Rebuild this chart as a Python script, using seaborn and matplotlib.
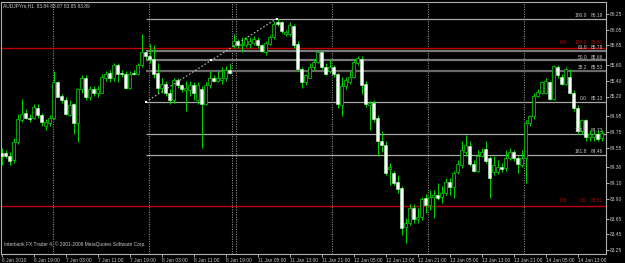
import numpy as np
import pandas as pd
import matplotlib
matplotlib.use("Agg")
import matplotlib.pyplot as plt
import matplotlib.transforms as mtrans
import seaborn as sns

# ---------------- data (AUDJPYm, H1) ----------------
opens = [84.48, 84.48, 84.45, 84.39, 84.62, 84.90, 84.99, 84.93, 84.93, 85.06,
         84.97, 84.82, 84.86, 84.93, 85.39, 85.21, 85.16, 84.97, 85.10, 84.86,
         85.29, 85.43, 85.19, 85.30, 85.25, 85.25, 85.44, 85.50, 85.44, 85.60,
         85.50, 85.49, 85.31, 85.50, 85.49, 85.60, 85.76, 85.72, 85.68, 85.50,
         85.31, 85.36, 85.25, 85.15, 85.41, 85.34, 85.28, 85.28, 85.34, 85.15,
         85.30, 85.11, 85.34, 85.43, 85.40, 85.41, 85.43, 85.54, 85.86, 85.90,
         85.85, 85.86, 85.87, 85.88, 85.92, 85.85, 85.76, 85.87, 85.95, 86.15,
         86.14, 86.00, 86.00, 86.10, 85.87, 85.55, 85.38, 85.44, 85.57, 85.64,
         85.77, 85.57, 85.53, 85.58, 85.48, 85.09, 85.33, 85.39, 85.45, 85.63,
         85.68, 85.36, 85.09, 85.12, 84.93, 84.64, 84.58, 84.28, 84.23, 84.11,
         84.04, 83.54, 83.59, 83.79, 83.64, 83.67, 83.91, 83.82, 83.92, 83.95,
         83.92, 83.97, 84.12, 84.05, 84.24, 84.33, 84.49, 84.57, 84.34, 84.26,
         84.45, 84.53, 84.42, 84.24, 84.24, 84.30, 84.29, 84.42, 84.49, 84.42,
         84.33, 84.42, 84.86, 84.95, 85.21, 85.25, 85.25, 85.38, 85.17, 85.58,
         85.45, 85.36, 85.45, 85.25, 85.06, 84.76, 84.90, 84.68, 84.68, 84.73,
         84.67]
highs = [84.54, 84.52, 84.49, 84.67, 84.98, 85.17, 85.04, 84.98, 85.11, 85.10,
         84.99, 84.91, 84.96, 85.53, 85.40, 85.23, 85.19, 85.15, 85.12, 85.31,
         85.47, 85.47, 85.33, 85.33, 85.33, 85.48, 85.53, 85.54, 85.62, 85.63,
         85.54, 85.53, 85.53, 85.54, 85.63, 86.00, 85.78, 85.87, 85.86, 85.62,
         85.43, 85.40, 85.30, 85.44, 85.44, 85.36, 85.40, 85.40, 85.38, 85.38,
         85.33, 85.38, 85.53, 85.47, 85.53, 85.57, 85.59, 85.63, 86.00, 85.93,
         85.95, 85.96, 85.95, 85.97, 85.95, 85.87, 85.91, 85.98, 86.16, 86.19,
         86.16, 86.05, 86.14, 86.12, 85.90, 85.58, 85.49, 85.62, 85.67, 85.78,
         85.78, 85.63, 85.68, 85.60, 85.50, 85.45, 85.45, 85.52, 85.68, 85.72,
         85.71, 85.40, 85.14, 85.15, 84.96, 84.76, 84.64, 84.36, 84.26, 84.20,
         84.06, 83.66, 83.83, 83.83, 83.79, 83.92, 83.96, 84.01, 84.01, 84.10,
         84.06, 84.17, 84.16, 84.26, 84.39, 84.64, 84.71, 84.64, 84.39, 84.52,
         84.55, 84.64, 84.45, 84.44, 84.39, 84.35, 84.52, 84.54, 84.52, 84.45,
         84.52, 84.90, 84.97, 85.24, 85.30, 85.40, 85.43, 85.40, 85.60, 85.60,
         85.48, 85.58, 85.55, 85.28, 85.09, 84.92, 84.92, 84.77, 84.76, 84.77,
         84.77]
lows = [84.33, 84.42, 84.33, 84.35, 84.60, 84.87, 84.91, 84.87, 84.92, 84.93,
        84.82, 84.77, 84.82, 84.92, 85.19, 85.12, 84.97, 84.95, 84.73, 84.62,
        85.25, 85.16, 85.15, 85.21, 85.19, 85.24, 85.40, 85.38, 85.40, 85.38,
        85.45, 85.30, 85.29, 85.47, 85.47, 85.58, 85.68, 85.63, 85.44, 85.24,
        85.25, 85.21, 85.11, 85.12, 85.31, 85.26, 85.02, 85.21, 85.15, 85.11,
        84.54, 85.09, 85.31, 85.38, 85.38, 85.36, 85.40, 85.48, 85.82, 85.81,
        85.76, 85.83, 85.82, 85.86, 85.81, 85.76, 85.73, 85.85, 85.93, 86.09,
        86.01, 85.97, 85.97, 85.82, 85.53, 85.31, 85.35, 85.43, 85.54, 85.62,
        85.55, 85.47, 85.50, 85.45, 85.05, 84.95, 85.30, 85.36, 85.43, 85.60,
        85.23, 85.07, 84.77, 84.87, 84.45, 84.49, 84.20, 84.07, 84.07, 83.98,
        83.44, 83.34, 83.57, 83.60, 83.60, 83.63, 83.72, 83.76, 83.66, 83.88,
        83.85, 83.95, 83.95, 83.91, 84.21, 84.29, 84.45, 84.32, 84.24, 84.24,
        84.43, 84.35, 83.91, 84.20, 84.21, 84.24, 84.26, 84.39, 84.38, 84.23,
        84.30, 84.10, 84.82, 84.92, 85.19, 85.23, 85.23, 85.15, 85.16, 85.43,
        85.34, 85.34, 85.23, 85.02, 84.73, 84.72, 84.64, 84.64, 84.64, 84.63,
        84.64]
closes = [84.44, 84.44, 84.38, 84.62, 84.92, 84.98, 84.93, 84.92, 85.07, 84.96,
          84.87, 84.87, 84.93, 85.39, 85.20, 85.15, 84.98, 85.09, 84.86, 85.29,
          85.43, 85.19, 85.29, 85.25, 85.29, 85.45, 85.49, 85.44, 85.60, 85.49,
          85.49, 85.31, 85.49, 85.49, 85.60, 85.76, 85.71, 85.68, 85.49, 85.31,
          85.36, 85.24, 85.15, 85.41, 85.34, 85.29, 85.31, 85.34, 85.25, 85.34,
          85.11, 85.34, 85.43, 85.40, 85.44, 85.44, 85.54, 85.50, 85.91, 85.85,
          85.87, 85.93, 85.91, 85.93, 85.86, 85.78, 85.88, 85.95, 86.12, 86.12,
          86.03, 86.02, 86.11, 85.85, 85.55, 85.38, 85.47, 85.57, 85.64, 85.76,
          85.57, 85.49, 85.58, 85.48, 85.10, 85.33, 85.41, 85.45, 85.64, 85.69,
          85.35, 85.11, 85.12, 84.91, 84.64, 84.58, 84.23, 84.30, 84.10, 84.02,
          83.53, 83.60, 83.79, 83.64, 83.67, 83.90, 83.82, 83.92, 83.95, 83.91,
          83.97, 84.11, 84.05, 84.23, 84.34, 84.52, 84.58, 84.34, 84.26, 84.45,
          84.49, 84.38, 84.17, 84.33, 84.30, 84.28, 84.42, 84.49, 84.42, 84.34,
          84.42, 84.86, 84.95, 85.21, 85.26, 85.38, 85.40, 85.17, 85.59, 85.47,
          85.36, 85.55, 85.25, 85.06, 84.76, 84.90, 84.68, 84.73, 84.73, 84.66,
          84.74]

time_labels = ["6 Jan 2010", "6 Jan 19:00", "7 Jan 03:00", "7 Jan 11:00", "7 Jan 19:00",
               "8 Jan 03:00", "8 Jan 11:00", "8 Jan 19:00", "11 Jan 05:00", "11 Jan 13:00",
               "11 Jan 21:00", "12 Jan 05:00", "12 Jan 13:00", "12 Jan 21:00", "13 Jan 05:00",
               "13 Jan 13:00", "13 Jan 21:00", "14 Jan 05:00", "14 Jan 13:00"]
time_label_bars = [0, 8, 16, 24, 32, 40, 48, 56, 64, 72, 80, 88, 96, 104, 112, 120, 128, 136, 144]
day_separator_bars = [12.8, 36.8, 57.6, 58.6, 82.6, 106.6, 130.5]

price_ticks = [86.25, 86.05, 85.85, 85.60, 85.40, 85.20, 84.95, 84.75, 84.55,
               84.30, 84.10, 83.90, 83.65, 83.45, 83.25]

fib_names = ["100.0", "61.8", "50.0", "38.2", "0.0", "138.2", "161.8"]
fib_prices = [86.19, 85.78, 85.66, 85.53, 85.13, 84.73, 84.46]
fib_start_bar = 36.0
fib_trend_bars = [36.0, 68.8]
fib_trend_prices = [85.13, 86.19]

pivot_names = ["100.0", "0.0"]
pivot_prices = [85.81, 83.81]

# ---------------- style ----------------
sns.set_style("dark", {"axes.facecolor": "black", "figure.facecolor": "black"})
plt.rcParams["font.family"] = ["Liberation Sans", "DejaVu Sans"]

W, H = 625, 263
fig = plt.figure(figsize=(W / 100, H / 100), dpi=100)
ax = fig.add_axes([1 / W, 9 / H, 605 / W, 252 / H])
ax.set_facecolor("black")

TXT = "#c8c8c8"
RED = "#c00000"
GREEN = "#00d000"
FS = 3.5

df = pd.DataFrame({"o": opens, "h": highs, "l": lows, "c": closes})
df["bar"] = np.arange(len(df))

# day separators
for b in day_separator_bars:
    ax.axvline(b, color="#8a8a8a", lw=0.8, ls=(0, (1, 1.2)), zorder=1)

# pivot (red) lines
for p in pivot_prices:
    ax.axhline(p, color=RED, lw=1.0, zorder=2)

# fibonacci lines
fib_styles = {"100.0": ("#a8a8a8", 0.9), "61.8": ("#7a7a7a", 1.6), "50.0": ("#7a7a7a", 1.6),
              "38.2": ("#6a6a6a", 1.6), "0.0": ("#a8a8a8", 0.9), "138.2": ("#a8a8a8", 0.9),
              "161.8": ("#a8a8a8", 0.9)}
for name, p in zip(fib_names, fib_prices):
    col, lw = fib_styles[name]
    ax.plot([fib_start_bar, 160], [p, p], color=col, lw=lw, zorder=2, solid_capstyle="butt")

# candles: wicks
ax.vlines(df["bar"], df["l"], df["h"], color=GREEN, lw=0.75, zorder=3)
# bodies
bull = df["c"] >= df["o"]
bottoms = np.minimum(df["o"], df["c"])
heights = np.maximum(np.abs(df["c"] - df["o"]), 0.012)
ax.bar(df["bar"][bull], heights[bull], bottom=bottoms[bull], width=0.62,
       color="black", edgecolor=GREEN, linewidth=0.55, zorder=4)
ax.bar(df["bar"][~bull], heights[~bull], bottom=bottoms[~bull], width=0.62,
       color="white", edgecolor="#b8ffb8", linewidth=0.4, zorder=4)

# fib trend line (dotted)
trend = pd.DataFrame({"bar": fib_trend_bars, "price": fib_trend_prices})
sns.lineplot(data=trend, x="bar", y="price", ax=ax, color="#bdbdbd", lw=0.8,
             linestyle=(0, (1.5, 1.8)), zorder=5)
mid_b = sum(fib_trend_bars) / 2
mid_p = sum(fib_trend_prices) / 2
ax.scatter([fib_trend_bars[0], mid_b, fib_trend_bars[1]],
           [fib_trend_prices[0], mid_p, fib_trend_prices[1]],
           marker="s", s=2.5, color="white", zorder=6, linewidths=0)

# limits
ax.set_xlim(-0.175, 151.07)
ax.set_ylim(83.20, 86.40)

# labels for fib lines
for name, p in zip(fib_names, fib_prices):
    ax.text(146.3, p + 0.008, name, color=TXT, fontsize=FS, ha="right", va="bottom", zorder=7)
    ax.text(150.4, p + 0.008, f"{p:.2f}", color=TXT, fontsize=FS, ha="right", va="bottom", zorder=7)
for name, p in zip(pivot_names, pivot_prices):
    ax.text(141.3, p + 0.04, "MN", color=RED, fontsize=FS, ha="right", va="bottom", zorder=7)
    ax.text(146.3, p + 0.04, name, color=RED, fontsize=FS, ha="right", va="bottom", zorder=7)
    ax.text(150.4, p + 0.04, f"{p:.2f}", color=RED, fontsize=FS, ha="right", va="bottom", zorder=7)

# axes ticks
ax.yaxis.tick_right()
ax.set_yticks(price_ticks)
ax.set_yticklabels([f"{v:.2f}" for v in price_ticks])
ax.set_xticks(time_label_bars)
ax.set_xticklabels(time_labels)
for lbl in ax.get_xticklabels():
    lbl.set_horizontalalignment("left")
    lbl.set_transform(lbl.get_transform() + mtrans.ScaledTranslation(1 / 100, 0, fig.dpi_scale_trans))
ax.tick_params(axis="both", colors=TXT, labelsize=FS, length=2, width=0.6, pad=1.0,
               bottom=True, right=True, left=False)
ax.tick_params(axis="y", pad=1.0)
ax.set_xlabel("")
ax.set_ylabel("")
ax.grid(False)
for s in ax.spines.values():
    s.set_visible(True)
    s.set_color("#b0b0b0")
    s.set_linewidth(0.8)

# header and footer texts
fig.text(3 / W, 1 - 6 / H, "AUDJPYm,H1  83.84 83.87 83.85 83.89", color=TXT,
         fontsize=FS, ha="left", va="center")
fig.text(4 / W, 1 - 244 / H, "Interbank FX Trader 4, \u00a9 2001-2009 MetaQuotes Software Corp.",
         color=TXT, fontsize=FS, ha="left", va="center")

fig.savefig("out.png", dpi=100, facecolor="black")
